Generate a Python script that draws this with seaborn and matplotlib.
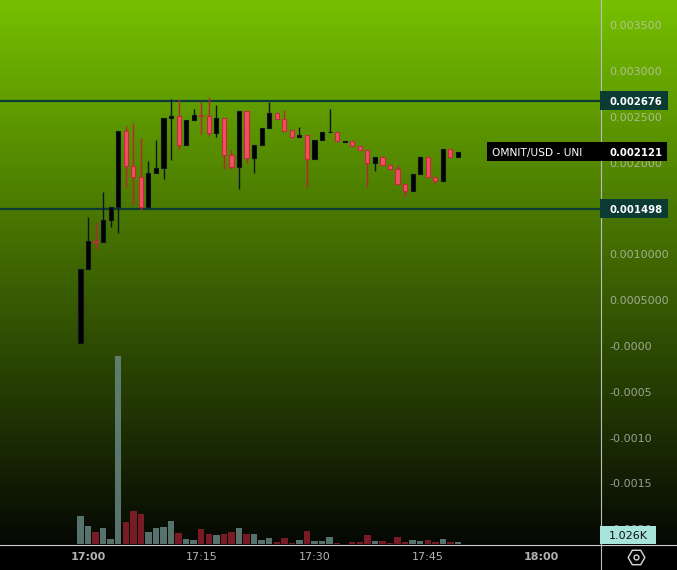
import numpy as np
import pandas as pd
import matplotlib
matplotlib.use('Agg')
import matplotlib.pyplot as plt
from matplotlib.patches import Rectangle
import seaborn as sns

# ---------------- data ----------------
minutes = list(range(-1, 50))  # minutes after 17:00 (16:59 ... 17:49)
opens = [0.000030, 0.000837, 0.001142, 0.001130, 0.001371, 0.001513, 0.002342, 0.001967, 0.001840, 0.001513,
         0.001884, 0.001938, 0.002484, 0.002505, 0.002189, 0.002462, 0.002516, 0.002505, 0.002327, 0.002484,
         0.002080, 0.001956, 0.002560, 0.002054, 0.002189, 0.002375, 0.002538, 0.002473, 0.002353, 0.002276,
         0.002298, 0.002036, 0.002244, 0.002331, 0.002331, 0.002230, 0.002233, 0.002185, 0.002134, 0.001993,
         0.002058, 0.001971, 0.001927, 0.001764, 0.001694, 0.001873, 0.002058, 0.001840, 0.001796, 0.002145,
         0.002058]
highs = [0.000837, 0.001407, 0.001356, 0.001680, 0.001513, 0.002342, 0.002400, 0.002432, 0.002265, 0.002018,
         0.002247, 0.002484, 0.002694, 0.002694, 0.002462, 0.002585, 0.002672, 0.002716, 0.002629, 0.002484,
         0.002134, 0.002560, 0.002560, 0.002189, 0.002375, 0.002665, 0.002538, 0.002574, 0.002353, 0.002389,
         0.002298, 0.002244, 0.002331, 0.002585, 0.002331, 0.002233, 0.002233, 0.002185, 0.002134, 0.002058,
         0.002072, 0.001971, 0.001971, 0.001764, 0.001873, 0.002058, 0.002058, 0.001840, 0.002145, 0.002145,
         0.002121]
lows = [0.000030, 0.000837, 0.001055, 0.001130, 0.001301, 0.001236, 0.001738, 0.001538, 0.001483, 0.001513,
        0.001884, 0.001818, 0.002029, 0.002152, 0.002189, 0.002462, 0.002309, 0.002294, 0.002283, 0.001934,
        0.001931, 0.001716, 0.001999, 0.001890, 0.002189, 0.002375, 0.002473, 0.002348, 0.002276, 0.002276,
        0.001731, 0.002036, 0.002244, 0.002331, 0.002233, 0.002230, 0.002185, 0.002134, 0.001731, 0.001912,
        0.001971, 0.001927, 0.001764, 0.001628, 0.001694, 0.001873, 0.001840, 0.001775, 0.001796, 0.002058,
        0.002058]
closes = [0.000837, 0.001142, 0.001137, 0.001371, 0.001513, 0.002342, 0.001967, 0.001840, 0.001513, 0.001884,
          0.001938, 0.002484, 0.002505, 0.002189, 0.002462, 0.002516, 0.002510, 0.002327, 0.002484, 0.002080,
          0.001956, 0.002560, 0.002054, 0.002189, 0.002375, 0.002538, 0.002473, 0.002348, 0.002276, 0.002298,
          0.002036, 0.002244, 0.002331, 0.002336, 0.002233, 0.002233, 0.002185, 0.002134, 0.001993, 0.002058,
          0.001971, 0.001927, 0.001764, 0.001694, 0.001873, 0.002058, 0.001840, 0.001796, 0.002145, 0.002058,
          0.002121]
volumes_k = [14, 9, 6, 8, 2.5, 94, 11, 16.5, 15, 6,
             8, 8.5, 11.5, 5.5, 2.5, 2, 7.5, 5, 4.5, 5,
             6, 8, 5, 5, 2, 3, 1, 3, 0.5, 2,
             6.5, 1.5, 1.5, 3.5, 0.5, 0, 1, 1, 4.5, 1.5,
             1.5, 0.5, 3.5, 1, 2, 1.5, 2, 1, 2.5, 1,
             1.026]
time_ticks = [0, 15, 30, 45, 60]
time_labels = ['17:00', '17:15', '17:30', '17:45', '18:00']
price_ticks = [0.0035, 0.0030, 0.0025, 0.0020, 0.0010, 0.0005, 0.0, -0.0005, -0.0010, -0.0015, -0.0020]
price_tick_labels = ['0.003500', '0.003000', '0.002500', '0.002000', '0.0010000', '0.0005000',
                     '-0.0000', '-0.0005', '-0.0010', '-0.0015', '-0.0020']
resistance = 0.002676
support = 0.001498
last_price = 0.002121
symbol = 'OMNIT/USD - UNI'
last_volume_label = '1.026K'

# ---------------- layout ----------------
W, H = 677, 570
PLOT_R = 600      # px, right edge of plot area
PLOT_B = 544      # px, bottom of plot area
XMIN, XMAX = -88 / 7.55, 512 / 7.55
YMIN, YMAX = -0.00216, 0.003774
VMAX = 272

fig = plt.figure(figsize=(W / 100, H / 100), dpi=100, facecolor='black')

# gradient background
ax_bg = fig.add_axes([0, 0, 1, 1], zorder=0)
top = np.array([118, 192, 0]) / 255
bot = np.array([5, 8, 4]) / 255
t = np.linspace(0, 1, PLOT_B)[:, None, None]
grad = top * (1 - t) + bot * t
ax_bg.imshow(grad, extent=(0, W, PLOT_B, 0), aspect='auto', interpolation='bilinear')
ax_bg.add_patch(Rectangle((0, PLOT_B), W, H - PLOT_B, color='black'))
ax_bg.plot([0, W], [PLOT_B + 0.5, PLOT_B + 0.5], color='#cfcfcf', lw=0.8)
ax_bg.plot([PLOT_R + 0.5, PLOT_R + 0.5], [0, H], color='#bcbcbc', lw=0.8)
ax_bg.plot(636, 557, marker='H', ms=12, mfc='none', mec='#d8d8d8', mew=1.0)
ax_bg.plot(636, 557, marker='o', ms=3.5, mfc='none', mec='#d8d8d8', mew=1.0)
ax_bg.set_xlim(0, W)
ax_bg.set_ylim(H, 0)
ax_bg.axis('off')

rect = [0, (H - PLOT_B) / H, PLOT_R / W, PLOT_B / H]

# volume
ax_v = fig.add_axes(rect, zorder=1)
ax_v.patch.set_alpha(0)
o = np.array(opens); c = np.array(closes); h = np.array(highs); l = np.array(lows)
x = np.array(minutes)
up = c >= o
df = pd.DataFrame({'minute': minutes, 'volume': volumes_k, 'dir': np.where(up, 'up', 'down')})
sns.barplot(data=df, x='minute', y='volume', hue='dir',
            palette={'up': '#6a8a85', 'down': '#92202c'},
            native_scale=True, width=0.85, dodge=False, saturation=1, alpha=0.82,
            errorbar=None, legend=False, linewidth=0, ax=ax_v)
ax_v.set_xlim(XMIN, XMAX)
ax_v.set_ylim(0, VMAX)
ax_v.axis('off')

# price
ax = fig.add_axes(rect, zorder=2)
ax.patch.set_alpha(0)
ax.axhline(resistance, color='#0b3d36', lw=1.6, zorder=1)
ax.axhline(support, color='#0b3d36', lw=1.6, zorder=1)

body_lo = np.minimum(o, c)
body_h = np.maximum(np.abs(c - o), 0.000008)
dn = ~up
ax.vlines(x[up], l[up], h[up], color='#0e1422', lw=1.0, zorder=2)
ax.vlines(x[dn], l[dn], h[dn], color='#b82534', lw=1.0, zorder=2)
ax.bar(x[up], body_h[up], bottom=body_lo[up], width=0.55, color='#000000',
       edgecolor='#0e1422', linewidth=0.8, zorder=3)
ax.bar(x[dn], body_h[dn], bottom=body_lo[dn], width=0.55, color='#f05064',
       edgecolor='#c42a3a', linewidth=0.8, zorder=3)

ax.set_xlim(XMIN, XMAX)
ax.set_ylim(YMIN, YMAX)
for s in ax.spines.values():
    s.set_visible(False)
ax.yaxis.tick_right()
ax.set_yticks(price_ticks)
ax.set_yticklabels(price_tick_labels)
ax.tick_params(axis='y', length=0, pad=6.5, labelsize=8, labelcolor='#cacaca')
for lab in ax.get_yticklabels():
    lab.set_alpha(0.72)
ax.set_xticks(time_ticks)
ax.set_xticklabels(time_labels)
ax.tick_params(axis='x', length=0, pad=6, labelsize=8, labelcolor='#b2b2b2')
for lab in ax.get_xticklabels():
    if lab.get_text().endswith(':00'):
        lab.set_fontweight('bold')

# overlay labels (x in pixels, y in price units)
ax_ov = fig.add_axes([0, (H - PLOT_B) / H, 1, PLOT_B / H], zorder=10)
ax_ov.patch.set_alpha(0)
ax_ov.set_xlim(0, W)
ax_ov.set_ylim(YMIN, YMAX)
ax_ov.axis('off')
ppu = PLOT_B / (YMAX - YMIN)


def box(x0, x1, yc, hpx, fc, txt, tc, weight, fs, tx):
    hh = hpx / ppu
    ax_ov.add_patch(Rectangle((x0, yc - hh / 2), x1 - x0, hh, fc=fc, ec='none', clip_on=False))
    ax_ov.text(tx, yc, txt, color=tc, fontsize=fs, fontweight=weight, va='center_baseline',
               ha='left', clip_on=False)


box(PLOT_R, 668, resistance, 19, '#0b3b33', f'{resistance:.6f}', 'white', 'bold', 7.3, 609)
box(PLOT_R, 668, support, 19, '#0b3b33', f'{support:.6f}', 'white', 'bold', 7.3, 609)
box(PLOT_R, 667, last_price, 19, '#000000', f'{last_price:.6f}', 'white', 'bold', 7.3, 609)
box(487, PLOT_R, last_price, 19, '#000000', symbol, 'white', 'normal', 7.7, 492)
vb_h = 18
box(PLOT_R, 656, YMIN + (vb_h / 2) / ppu, vb_h, '#a8e4dc', last_volume_label, '#111111', 'normal', 8, 609)

fig.savefig('out.png', dpi=100, facecolor='black')
